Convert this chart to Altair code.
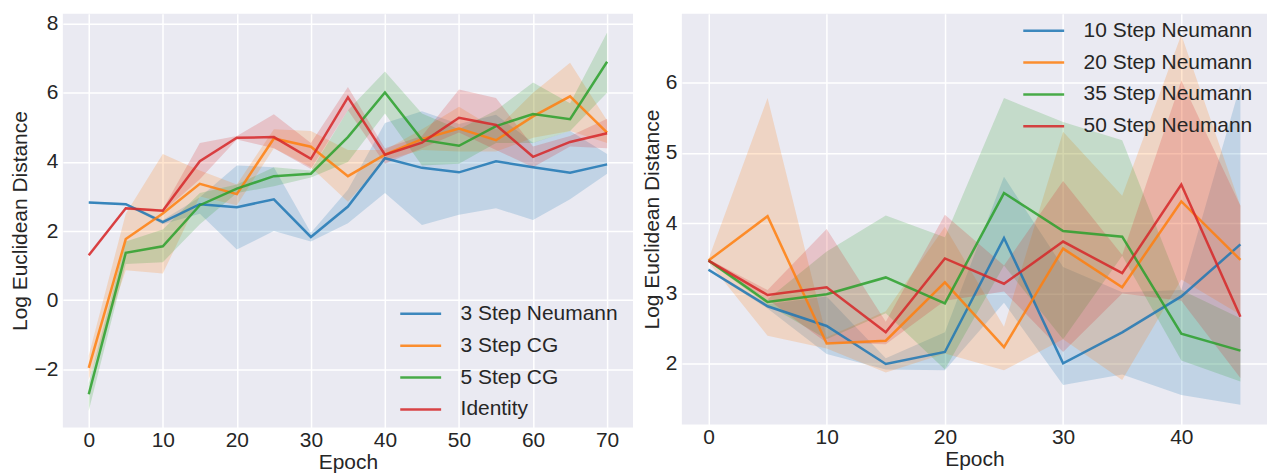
import altair as alt
import pandas as pd

COLORS = ["#1f77b4", "#ff7f0e", "#2ca02c", "#d62728"]
FONT = "Liberation Sans"
TEXT = "#262626"

# ---------------- left panel ----------------
epochs_left = [0, 5, 10, 15, 20, 25, 30, 35, 40, 45, 50, 55, 60, 65, 70]
names_left = ["3 Step Neumann", "3 Step CG", "5 Step CG", "Identity"]

neu3_mean = [2.83, 2.78, 2.26, 2.78, 2.69, 2.92, 1.83, 2.71, 4.11, 3.83, 3.70, 4.02, 3.85, 3.69, 3.93]
neu3_lo = [2.80, 2.75, 2.20, 2.50, 1.47, 2.00, 1.70, 2.23, 3.10, 2.18, 2.47, 2.66, 2.32, 2.92, 3.66]
neu3_hi = [2.86, 2.81, 2.32, 2.98, 3.90, 3.85, 1.95, 3.20, 5.13, 5.47, 5.10, 5.37, 4.56, 4.90, 4.23]

cg3_mean = [-1.96, 1.77, 2.51, 3.37, 3.07, 4.68, 4.44, 3.59, 4.21, 4.66, 4.97, 4.63, 5.32, 5.90, 4.85]
cg3_lo = [-2.30, 0.87, 0.77, 3.00, 2.75, 4.40, 3.85, 2.85, 4.05, 4.35, 4.30, 4.30, 4.70, 4.90, 4.55]
cg3_hi = [-1.60, 2.50, 4.23, 3.75, 3.35, 4.95, 4.90, 4.35, 4.35, 4.95, 5.60, 4.95, 6.00, 6.87, 5.20]

cg5_mean = [-2.72, 1.37, 1.56, 2.75, 3.23, 3.59, 3.66, 4.72, 6.01, 4.64, 4.47, 5.04, 5.39, 5.24, 6.90]
cg5_lo = [-3.20, 1.05, 1.10, 2.20, 3.10, 3.30, 3.55, 4.00, 5.40, 3.90, 3.95, 4.55, 4.55, 4.90, 6.00]
cg5_hi = [-2.40, 1.70, 2.05, 3.10, 3.35, 3.85, 3.75, 5.50, 6.62, 5.40, 4.95, 5.50, 6.30, 5.70, 7.75]

ident_mean = [1.30, 2.66, 2.59, 4.02, 4.70, 4.72, 4.09, 5.87, 4.21, 4.56, 5.28, 5.07, 4.15, 4.58, 4.83]
ident_lo = [1.28, 2.62, 2.55, 3.50, 4.65, 4.40, 3.80, 5.50, 3.95, 4.40, 4.85, 4.35, 3.85, 4.45, 4.40]
ident_hi = [1.32, 2.70, 2.63, 4.55, 4.75, 5.38, 4.55, 6.17, 4.40, 4.75, 6.10, 5.85, 4.45, 4.75, 5.25]

xticks_left = [0, 10, 20, 30, 40, 50, 60, 70]
yticks_left = [-2, 0, 2, 4, 6, 8]

# ---------------- right panel ----------------
epochs_right = [0, 5, 10, 15, 20, 25, 30, 35, 40, 45]
names_right = ["10 Step Neumann", "20 Step Neumann", "35 Step Neumann", "50 Step Neumann"]

n10_mean = [3.34, 2.82, 2.54, 2.00, 2.17, 3.79, 2.01, 2.45, 2.96, 3.70]
n10_lo = [3.32, 2.79, 2.14, 1.92, 1.91, 2.87, 1.70, 1.85, 1.56, 1.42]
n10_hi = [3.36, 2.85, 2.96, 2.08, 2.45, 4.66, 3.38, 3.02, 3.05, 5.97]

n20_mean = [3.47, 4.10, 2.29, 2.33, 3.16, 2.24, 3.64, 3.09, 4.31, 3.48]
n20_lo = [3.45, 2.40, 2.22, 1.88, 2.15, 1.91, 2.35, 1.77, 3.20, 2.70]
n20_hi = [3.49, 5.78, 2.38, 2.75, 3.95, 2.53, 5.30, 4.39, 6.68, 4.25]

n35_mean = [3.47, 2.88, 2.99, 3.23, 2.86, 4.43, 3.89, 3.81, 2.43, 2.19]
n35_lo = [3.45, 2.84, 2.35, 2.72, 1.92, 3.40, 2.35, 3.54, 2.05, 1.75]
n35_hi = [3.49, 2.92, 3.60, 4.11, 3.80, 5.78, 5.44, 5.18, 3.05, 2.65]

n50_mean = [3.47, 2.98, 3.09, 2.45, 3.50, 3.14, 3.74, 3.29, 4.55, 2.67]
n50_lo = [3.45, 2.92, 2.30, 2.28, 2.90, 3.03, 2.17, 3.00, 2.90, 1.80]
n50_hi = [3.49, 3.05, 3.92, 2.60, 4.12, 3.40, 4.60, 3.55, 6.03, 4.25]

xticks_right = [0, 10, 20, 30, 40]
yticks_right = [2, 3, 4, 5, 6]


def long_table(epochs, names, means, los, his):
    rows = []
    for name, m, l, h in zip(names, means, los, his):
        for e, a, b, c in zip(epochs, m, l, h):
            rows.append({"epoch": e, "method": name, "mean": a, "lo": b, "hi": c})
    return pd.DataFrame(rows)


def panel(df, names, xdom, ydom, xvals, yvals, w, h, lx, ly):
    xs = alt.Scale(domain=xdom, nice=False, zero=False)
    ys = alt.Scale(domain=ydom, nice=False, zero=False)
    xaxis = alt.Axis(values=xvals, title="Epoch", format="d", labelPadding=2, titlePadding=1)
    yaxis = alt.Axis(values=yvals, title="Log Euclidean Distance", format="d")
    layers = []
    for name, col in zip(names, COLORS):
        layers.append(
            alt.Chart(df)
            .transform_filter(alt.datum.method == name)
            .mark_area(opacity=0.2, fill=col)
            .encode(
                x=alt.X("epoch:Q", scale=xs, axis=xaxis),
                y=alt.Y("lo:Q", scale=ys, axis=yaxis),
                y2="hi:Q",
            )
        )
    line = alt.Chart(df).mark_line(strokeWidth=2.5, opacity=0.85).encode(
        x=alt.X("epoch:Q", scale=xs, axis=xaxis),
        y=alt.Y("mean:Q", scale=ys, axis=yaxis),
        color=alt.Color(
            "method:N",
            scale=alt.Scale(domain=names, range=COLORS),
            legend=alt.Legend(
                orient="none",
                legendX=lx,
                legendY=ly,
                title=None,
                symbolType="stroke",
                symbolSize=1681,
                symbolStrokeWidth=2.5,
                symbolOpacity=0.85,
                labelFontSize=21,
                labelFont=FONT,
                labelColor=TEXT,
                labelOffset=18,
                labelLimit=400,
                rowPadding=-4,
                padding=0,
                offset=0,
            ),
        ),
    )
    layers.append(line)
    return alt.layer(*layers).properties(width=w, height=h)


df_left = long_table(
    epochs_left, names_left,
    [neu3_mean, cg3_mean, cg5_mean, ident_mean],
    [neu3_lo, cg3_lo, cg5_lo, ident_lo],
    [neu3_hi, cg3_hi, cg5_hi, ident_hi],
)
df_right = long_table(
    epochs_right, names_right,
    [n10_mean, n20_mean, n35_mean, n50_mean],
    [n10_lo, n20_lo, n35_lo, n50_lo],
    [n10_hi, n20_hi, n35_hi, n50_hi],
)

left = panel(df_left, names_left, [-3.5, 73.5], [-3.68, 8.29],
             xticks_left, yticks_left, 572, 415, 337, 279)
right = panel(df_right, names_right, [-2.25, 47.25], [1.14, 6.98],
              xticks_right, yticks_right, 587, 412, 341, -5)

chart = (
    alt.hconcat(left, right, spacing=8)
    .resolve_scale(color="independent", x="independent", y="independent")
    .properties(padding={"left": 2, "top": 0, "right": 2, "bottom": 0}, background="white")
    .configure_view(fill="#EAEAF2", stroke=None)
    .configure_axis(
        grid=True,
        gridColor="white",
        gridWidth=1.5,
        domain=False,
        ticks=False,
        labelFontSize=21,
        titleFontSize=21,
        labelFont=FONT,
        titleFont=FONT,
        labelColor=TEXT,
        titleColor=TEXT,
        titleFontWeight="normal",
        labelPadding=5,
        titlePadding=3,
    )
)

chart.save("out.html", embed_options={"renderer": "svg", "actions": False})
